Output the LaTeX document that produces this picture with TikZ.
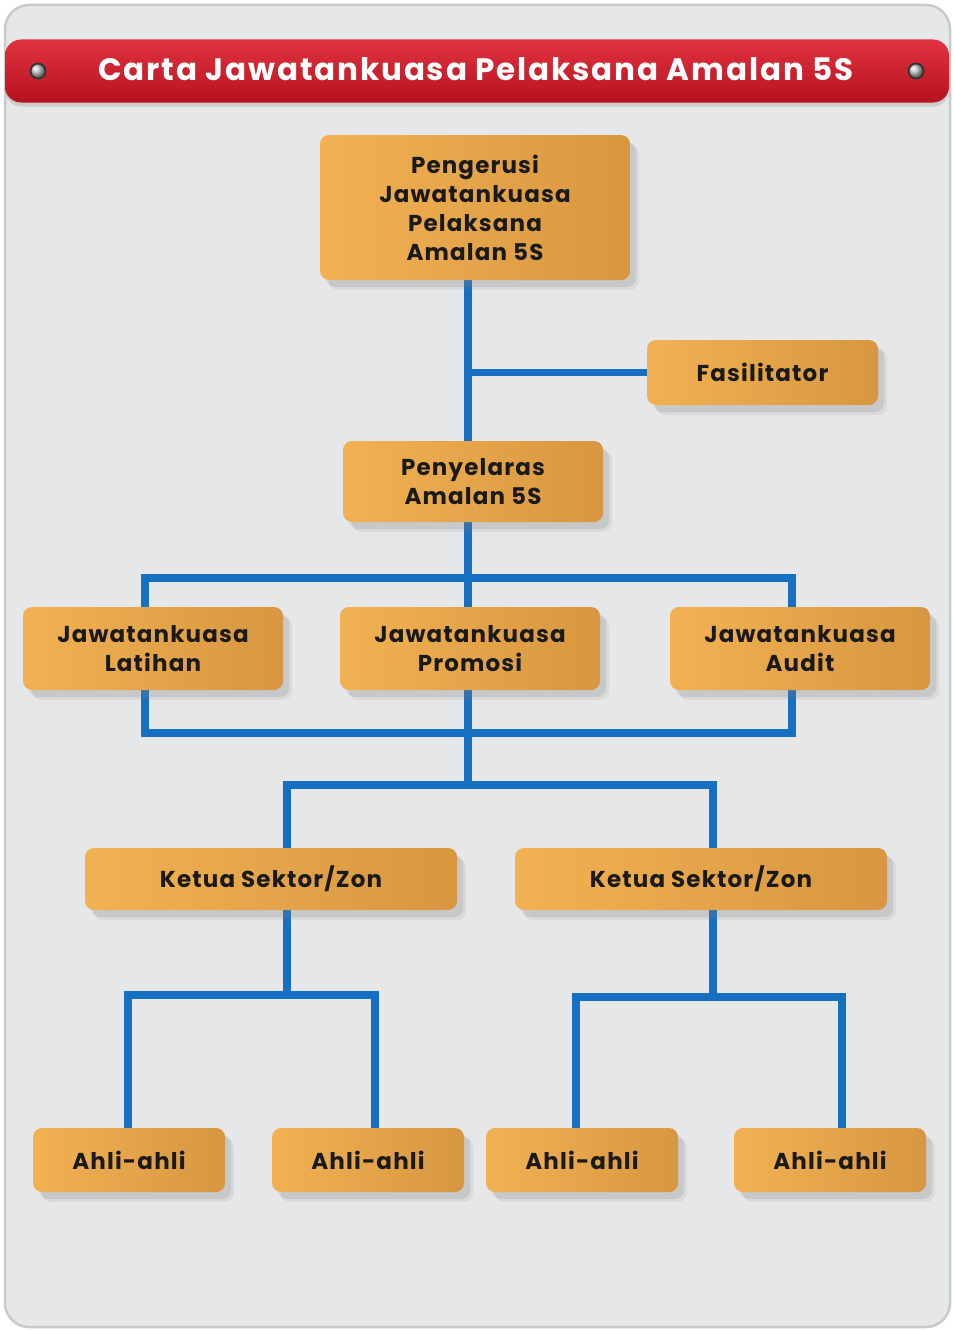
\documentclass[tikz,border=0pt]{standalone}
\usepackage{fontspec}
\setmainfont{Poppins}
\usetikzlibrary{shadows,calc}
\definecolor{panel}{HTML}{E6E7E9}
\definecolor{panelline}{HTML}{C9CACC}
\definecolor{orL}{HTML}{F2B152}
\definecolor{orR}{HTML}{D79740}
\definecolor{redT}{HTML}{E2323F}
\definecolor{redB}{HTML}{B5131F}
\definecolor{lineblue}{HTML}{1570C2}
\definecolor{txt}{HTML}{1A1A1A}
\pgfdeclarelayer{bottom}
\pgfdeclarelayer{lines}
\pgfsetlayers{bottom,lines,main}
\begin{document}
\begin{tikzpicture}[x=1pt,y=-1pt,
  box/.style={rounded corners=9pt, left color=orL, right color=orR, draw=none,
    drop shadow={opacity=0.12, shadow xshift=9pt, shadow yshift=-10pt},
    drop shadow={opacity=0.2, shadow xshift=6pt, shadow yshift=-7pt},
    align=center, text=txt, inner sep=0pt,
    font=\fontsize{23}{29}\selectfont\bfseries\addfontfeature{LetterSpace=5}},
  conn/.style={draw=lineblue, line width=7.5pt, line cap=rect},
  screw/.style={circle, minimum size=15pt, inner sep=0pt, ball color=gray!45, draw=black!80, line width=1.8pt}]
\useasboundingbox (0,0) rectangle (953,1330);
% panel
\begin{pgfonlayer}{bottom}
\draw[rounded corners=24pt, fill=panel, draw=panelline, line width=2.5pt] (5,5) rectangle (950,1327);
\end{pgfonlayer}
% header
\node[rounded corners=16pt, top color=redT, bottom color=redB, minimum width=944pt, minimum height=63pt,
  drop shadow={opacity=0.25, shadow xshift=0pt, shadow yshift=-4pt}] (head) at (477,71) {};
\node[text=white, font=\fontsize{31}{36}\selectfont\bfseries\addfontfeature{LetterSpace=6}] (title) at (476,69) {Carta Jawatankuasa Pelaksana Amalan 5S};
\node[screw] (s1) at (38,71) {};
\node[screw] (s2) at (916,71) {};
% boxes
\node[box, minimum width=310pt, minimum height=145pt] (peng) at (475,207.5) {Pengerusi\\Jawatankuasa\\Pelaksana\\Amalan 5S};
\node[box, minimum width=231pt, minimum height=65pt] (fas) at (762.5,372.5) {Fasilitator};
\node[box, minimum width=260pt, minimum height=81pt] (peny) at (473,481.5) {Penyelaras\\Amalan 5S};
\node[box, minimum width=260pt, minimum height=83pt] (lat) at (153,648.5) {Jawatankuasa\\Latihan};
\node[box, minimum width=260pt, minimum height=83pt] (pro) at (470,648.5) {Jawatankuasa\\Promosi};
\node[box, minimum width=260pt, minimum height=83pt] (aud) at (800,648.5) {Jawatankuasa\\Audit};
\node[box, minimum width=372pt, minimum height=62pt] (k1) at (271,879) {Ketua Sektor/Zon};
\node[box, minimum width=372pt, minimum height=62pt] (k2) at (701,879) {Ketua Sektor/Zon};
\node[box, minimum width=192pt, minimum height=64pt] (a1) at (129,1160) {Ahli-ahli};
\node[box, minimum width=192pt, minimum height=64pt] (a2) at (368,1160) {Ahli-ahli};
\node[box, minimum width=192pt, minimum height=64pt] (a3) at (582,1160) {Ahli-ahli};
\node[box, minimum width=192pt, minimum height=64pt] (a4) at (830,1160) {Ahli-ahli};
% junction coordinates
\coordinate (sp) at (468,0);
\coordinate (j1) at (468,578);
\coordinate (j2) at (468,733);
\coordinate (j3) at (468,785);
\coordinate (xl) at (145,0);
\coordinate (xr) at (792,0);
\coordinate (k1x) at (287,0);
\coordinate (k2x) at (713,0);
\coordinate (j4) at (287,995);
\coordinate (j5) at (713,997);
\coordinate (a1x) at (128,0);
\coordinate (a2x) at (375,0);
\coordinate (a3x) at (576,0);
\coordinate (a4x) at (842,0);
% connectors
\begin{pgfonlayer}{lines}
\draw[conn] (peng.south -| sp) -- (peny.north -| sp);
\draw[conn] (sp |- fas.west) -- (fas.west);
\draw[conn] (peny.south -| sp) -- (j1);
\draw[conn] (lat.north -| xl) -- (j1 -| xl) -- (j1 -| xr) -- (aud.north -| xr);
\draw[conn] (j1) -- (pro.north -| sp);
\draw[conn] (lat.south -| xl) -- (j2 -| xl) -- (j2 -| xr) -- (aud.south -| xr);
\draw[conn] (pro.south -| sp) -- (j3);
\draw[conn] (k1.north -| k1x) -- (j3 -| k1x) -- (j3 -| k2x) -- (k2.north -| k2x);
\draw[conn] (k1.south -| k1x) -- (j4);
\draw[conn] (a1.north -| a1x) -- (j4 -| a1x) -- (j4 -| a2x) -- (a2.north -| a2x);
\draw[conn] (k2.south -| k2x) -- (j5);
\draw[conn] (a3.north -| a3x) -- (j5 -| a3x) -- (j5 -| a4x) -- (a4.north -| a4x);
\end{pgfonlayer}
\end{tikzpicture}
\end{document}
